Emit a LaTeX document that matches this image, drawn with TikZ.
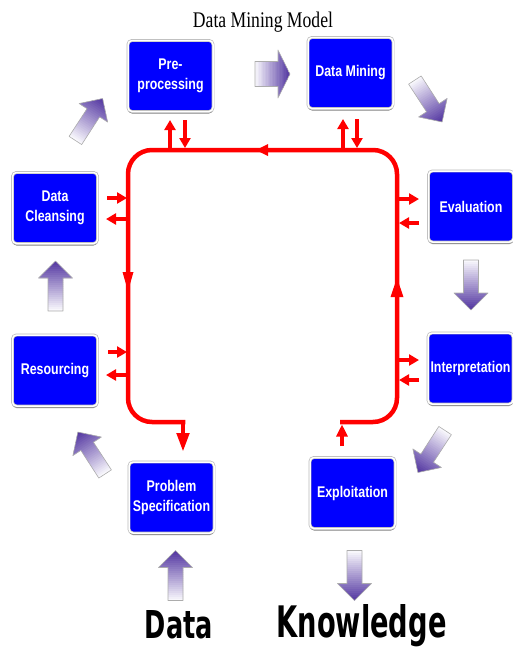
\documentclass[tikz,border=0pt]{standalone}
\usepackage{fontspec}
\setmainfont{Liberation Serif}
\newfontfamily\boxfont[FakeStretch=0.8]{Liberation Sans}
\newfontfamily\bigfont{DejaVu Sans}
\usetikzlibrary{arrows.meta,shadows}
\definecolor{boxblue}{RGB}{0,0,255}
\definecolor{darkpurple}{RGB}{78,48,158}
\definecolor{lightpurple}{RGB}{248,247,252}
\definecolor{loopred}{RGB}{255,0,0}
% #1 x, #2 y, #3 angle, #4 length, #5 head length, #6 head half width, #7 shaft half width
\newcommand\purplearrow[7]{%
  \begin{scope}[shift={(#1,#2)}, rotate=#3]
    \begin{scope}
      \clip (-#4/2,-#7) -- (#4/2-#5,-#7) -- (#4/2-#5,-#6) -- (#4/2,0) -- (#4/2-#5,#6) -- (#4/2-#5,#7) -- (-#4/2,#7) -- cycle;
      \foreach \i in {0,...,24} {
        \pgfmathtruncatemacro\pct{\i*4}
        \pgfmathsetmacro\xa{-#4/2+\i*#4/25}
        \pgfmathsetmacro\xb{-#4/2+(\i+1.4)*#4/25}
        \fill[darkpurple!\pct!lightpurple] (\xa,-30) rectangle (\xb,30);
      }
    \end{scope}
    \draw[fatedge] (-#4/2,-#7) -- (#4/2-#5,-#7) -- (#4/2-#5,-#6) -- (#4/2,0) -- (#4/2-#5,#6) -- (#4/2-#5,#7) -- (-#4/2,#7) -- cycle;
  \end{scope}}
\begin{document}
\begin{tikzpicture}[x=1pt,y=-1pt,
  stagebox/.style={rectangle, rounded corners=4pt, fill=boxblue, draw=gray!55,
    double=white, double distance=1.5pt, line width=0.7pt,
    minimum width=85pt, minimum height=71pt, inner sep=1pt, text=white,
    font=\boxfont\bfseries\fontsize{15.5pt}{20pt}\selectfont, align=center,
    drop shadow={shadow xshift=0pt, shadow yshift=-2pt, fill=black!55, opacity=0.9}},
  fatedge/.style={draw=gray!65, line width=0.6pt, line join=round},
  loopline/.style={draw=loopred, line width=4.5pt},
  sarrow/.style={draw=loopred, line width=3.5pt, -{Triangle[length=10pt,width=11pt]}},
  bigword/.style={anchor=base, inner sep=0pt, font=\bigfont\bfseries}
]
\useasboundingbox (0,0) rectangle (513,649);

% title
\node[anchor=base, inner sep=0pt] (title) at (263,27) {\resizebox{140pt}{15.5pt}{Data Mining Model}};

% stage boxes
\node[stagebox] (pre) at (170.5,76) {Pre-\\processing};
\node[stagebox] (dm) at (350.5,73) {Data Mining};
\node[stagebox] (dc) at (55,208) {Data\\Cleansing};
\node[stagebox] (ev) at (471,206.5) {Evaluation};
\node[stagebox] (int) at (470.5,368.5) {Interpretation};
\node[stagebox] (res) at (55,370.5) {Resourcing};
\node[stagebox] (ps) at (171.5,497.5) {Problem\\Specification};
\node[stagebox] (ex) at (352.5,493) {Exploitation};

% red loop
\draw[loopline, rounded corners=24pt] (340,422) -- (397,422) -- (397,150) -- (128,150) -- (128,422) -- (185.25,422);
\draw[loopline, -{Triangle[length=19pt,width=12pt]}] (183,419.75) -- (183,452);
\draw[sarrow, -{Triangle[length=12pt,width=11pt]}] (342,446) -- (342,424.5);
% loop direction heads
\fill[loopred] (256,150) -- (268,144) -- (268,156) -- cycle;
\fill[loopred] (122.5,272) -- (133.5,272) -- (128,291) -- cycle;
\fill[loopred] (390.5,297) -- (403.5,297) -- (397,278) -- cycle;

% small red arrows
\draw[sarrow] (170,148) -- (170,120);
\draw[sarrow] (185,120) -- (185,148);
\draw[sarrow] (343,148) -- (343,119);
\draw[sarrow] (357,119) -- (357,148);
\draw[sarrow] (107,198) -- (127,198);
\draw[sarrow] (126,219) -- (106,219);
\draw[sarrow] (108,352) -- (127,352);
\draw[sarrow] (126,375) -- (106,375);
\draw[sarrow] (399,199) -- (419,199);
\draw[sarrow] (419,223) -- (399,223);
\draw[sarrow] (399,360) -- (419,360);
\draw[sarrow] (419,380) -- (399,380);

% fat purple arrows
\purplearrow{272.5}{74}{0}{35}{12}{24}{12.5}
\purplearrow{428.5}{101}{-57}{50}{17}{17}{7.5}
\purplearrow{471}{285}{-90}{50}{17}{17}{7.5}
\purplearrow{431.5}{451.5}{-123}{50}{17}{17}{7.5}
\purplearrow{354.5}{575.5}{-90}{50}{17}{17}{7.5}
\purplearrow{175.5}{575.5}{90}{50}{17}{17}{7.5}
\purplearrow{91.5}{453}{123}{50}{17}{17}{7.5}
\purplearrow{55.5}{286}{90}{50}{17}{17}{7.5}
\purplearrow{89}{119.5}{57}{50}{17}{17}{7.5}

% bottom words
\node[bigword] (data) at (179,638) {\resizebox{68pt}{28pt}{Data}};
\node[bigword] (know) at (361.5,637) {\resizebox{170pt}{33pt}{Knowledge}};
\end{tikzpicture}
\end{document}
